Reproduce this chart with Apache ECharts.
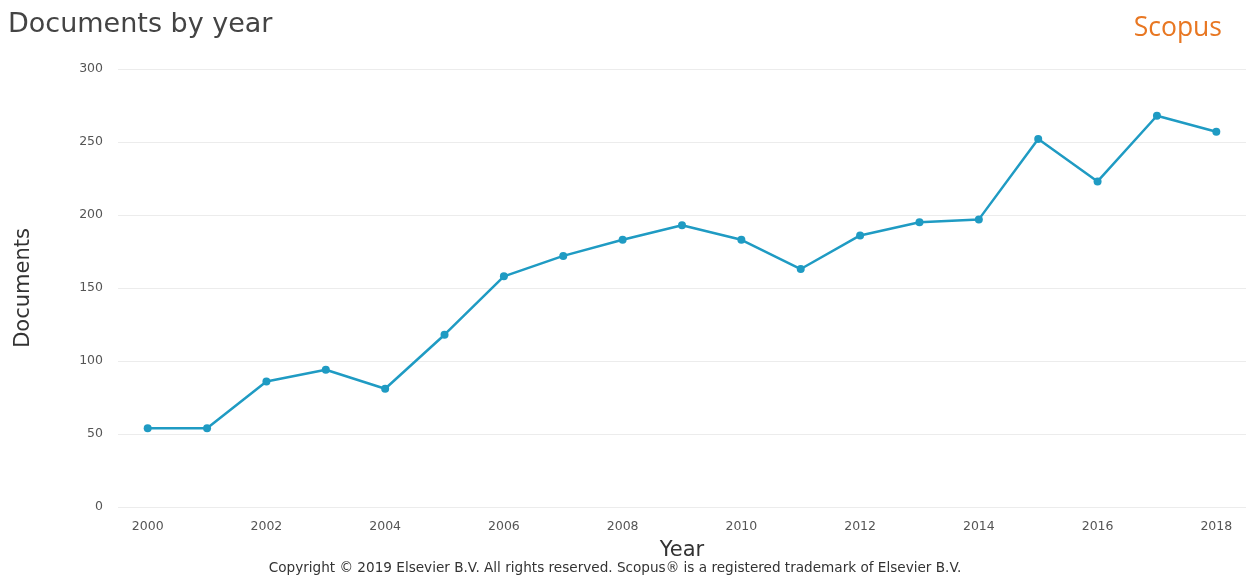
<!DOCTYPE html>
<html>
<head>
<meta charset="utf-8">
<script src="https://cdn.jsdelivr.net/npm/echarts@6/dist/echarts.min.js"></script>
<style>
html,body{margin:0;padding:0;background:#fff;}
#c{width:1250px;height:580px;}
</style>
</head>
<body>
<div id="c"></div>
<script>
var years = ['2000','2001','2002','2003','2004','2005','2006','2007','2008','2009','2010','2011','2012','2013','2014','2015','2016','2017','2018'];
var documents = [54,54,86,94,81,118,158,172,183,193,183,163,186,195,197,252,223,268,257];
var yTicks = [0,50,100,150,200,250,300];

var chart = echarts.init(document.getElementById('c'));
chart.setOption({
  backgroundColor:'#ffffff',
  animation:false,
  textStyle:{fontFamily:'DejaVu Sans'},
  title:[
    {text:'Documents by year', left:3, top:6, textStyle:{fontSize:27, fontWeight:'normal', color:'#444', fontFamily:'DejaVu Sans'}},
    {text:'Scopus', right:23, top:10, textStyle:{fontSize:26.5, fontWeight:'normal', color:'#e87722', fontFamily:'Open Sans'}},
    {text:'Copyright \u00a9 2019 Elsevier B.V. All rights reserved. Scopus\u00ae is a registered trademark of Elsevier B.V.', left:610, textAlign:'center', top:556, textStyle:{fontSize:13.6, fontWeight:'normal', color:'#333', fontFamily:'DejaVu Sans'}}
  ],
  grid:{left:118, right:4, top:69, bottom:73, containLabel:false},
  xAxis:{
    type:'category', data:years, boundaryGap:true,
    name:'Year', nameLocation:'middle', nameGap:33,
    nameTextStyle:{fontSize:21, color:'#333'},
    axisLine:{show:false}, axisTick:{show:false},
    axisLabel:{interval:1, fontSize:12.5, color:'#555', margin:13}
  },
  yAxis:{
    type:'value', min:yTicks[0], max:yTicks[yTicks.length-1], interval:50,
    name:'Documents', nameLocation:'middle', nameGap:84, nameRotate:90,
    nameTextStyle:{fontSize:21, color:'#333'},
    axisLine:{show:false}, axisTick:{show:false},
    axisLabel:{fontSize:12.5, color:'#555', margin:15},
    splitLine:{lineStyle:{color:'#ececec', width:1}}
  },
  series:[{
    type:'line', data:documents,
    symbol:'circle', symbolSize:8,
    lineStyle:{color:'#1f9bc3', width:2.5},
    itemStyle:{color:'#1f9bc3'}
  }]
});
</script>
</body>
</html>
